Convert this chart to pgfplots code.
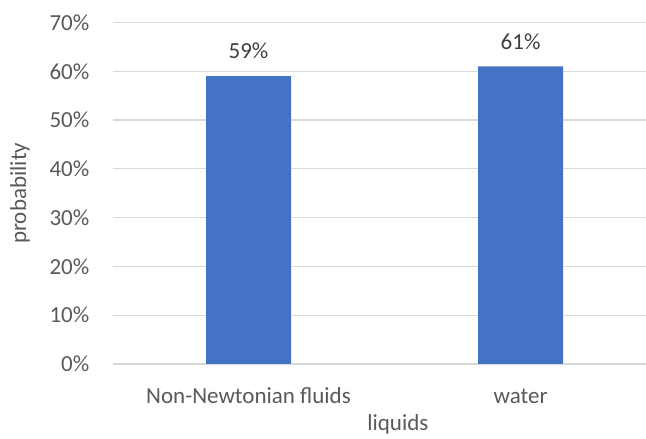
\documentclass[border=0pt]{standalone}
\usepackage{pgfplots}
\pgfplotsset{compat=1.18}
\usepackage{fontspec}
\setmainfont{Carlito}
\definecolor{txt}{HTML}{595959}
\definecolor{lbl}{HTML}{404040}
\definecolor{barc}{HTML}{4472C4}
\definecolor{gridc}{HTML}{D9D9D9}
\begin{document}
\begin{tikzpicture}
\useasboundingbox (0,0) rectangle (646bp,439bp);
\begin{axis}[
  at={(112.5bp,75bp)}, anchor=south west,
  scale only axis,
  width=533.5bp, height=341.5bp,
  xmin=-0.5, xmax=1.461,
  ymin=0, ymax=70,
  ytick={0,10,...,70},
  xtick={0,1},
  xticklabels={Non-Newtonian fluids, water},
  axis line style={draw=none},
  major tick length=0pt,
  ymajorgrids,
  grid style={gridc, line width=1.2bp},
  /pgf/number format/assume math mode=true,
  yticklabel={\pgfmathprintnumber{\tick}\%},
  font=\fontsize{23bp}{27bp}\selectfont,
  tick label style={txt, font=\fontsize{23bp}{27bp}\selectfont},
  yticklabel style={anchor=east, inner sep=0pt, xshift=-23bp},
  xticklabel style={anchor=center, inner sep=0pt, yshift=-32bp},
  ylabel={probability},
  ylabel style={txt, font=\fontsize{23bp}{27bp}\selectfont, at={(axis description cs:-0.1734,0.5)}, anchor=center},
  xlabel={liquids},
  xlabel style={txt, font=\fontsize{23bp}{27bp}\selectfont, at={(axis description cs:0.535,-0.1757)}, anchor=center},
  ybar, bar width=85bp,
  nodes near coords={\pgfmathprintnumber{\pgfplotspointmeta}\%},
  nodes near coords style={lbl, font=\fontsize{23bp}{27bp}\selectfont, anchor=center, inner sep=0pt, yshift=25bp},
]
\addplot[fill=barc, draw=none] coordinates {(0,59) (1,61)};
\end{axis}
\end{tikzpicture}
\end{document}
